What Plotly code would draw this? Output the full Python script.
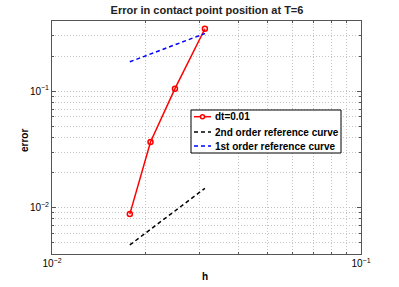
import plotly.graph_objects as go
import numpy as np

h = [1/56, 1/48, 1/40, 1/32]
err = [0.0088, 0.0366, 0.105, 0.343]
ref2 = [15 * v**2 for v in h]
ref1 = [10 * v for v in h]

xticks = [0.01, 0.1]
xticktext = ["10<sup>−2</sup>", "10<sup>−1</sup>"]
yticks = [0.01, 0.1]
yticktext = ["10<sup>−2</sup>", "10<sup>−1</sup>"]
xminor = [0.02, 0.03, 0.04, 0.05, 0.06, 0.07, 0.08, 0.09]
yminor = [0.005, 0.006, 0.007, 0.008, 0.009, 0.02, 0.03, 0.04, 0.05, 0.06, 0.07, 0.08, 0.09,
          0.2, 0.3, 0.4]

names = ["dt=0.01", "2nd order reference curve", "1st order reference curve"]
colors = ["#ff0000", "black", "#0000ff"]

FONT = "Liberation Sans, Arial, sans-serif"
W, H = 399, 287
L, R, T, B = 52, 38, 21, 33
PW, PH = W - L - R, H - T - B
DASH = "4px,3px"
GRIDDASH = "1px,2px"

def px(x):
    return (x - L) / PW

def py(y):
    return (H - B - y) / PH

fig = go.Figure()
fig.add_trace(go.Scatter(x=h, y=err, mode="lines+markers", name=names[0],
                         line=dict(color=colors[0], width=1.5),
                         marker=dict(symbol="circle-open", size=5, color=colors[0], line=dict(width=1.5))))
fig.add_trace(go.Scatter(x=[h[0], h[-1]], y=[ref2[0], ref2[-1]], mode="lines", name=names[1],
                         line=dict(color=colors[1], width=1.5, dash=DASH)))
fig.add_trace(go.Scatter(x=[h[0], h[-1]], y=[ref1[0], ref1[-1]], mode="lines", name=names[2],
                         line=dict(color=colors[2], width=1.5, dash=DASH)))

def axis_common(minor_vals):
    return dict(
        type="log", showline=True, linecolor="#555555", linewidth=1, mirror="ticks",
        ticks="inside", ticklen=4, tickcolor="#555555", automargin=False,
        showgrid=True, gridcolor="#bdbdbd", griddash=GRIDDASH, gridwidth=1,
        zeroline=False, tickfont=dict(family=FONT, size=10, color="black"),
        minor=dict(tickvals=minor_vals, ticks="inside", ticklen=2, tickcolor="#555555", showgrid=True,
                   gridcolor="#c4c4c4", griddash=GRIDDASH, gridwidth=1),
    )

fig.update_xaxes(**axis_common(xminor), range=[-2, -1], tickvals=xticks, ticktext=xticktext)
fig.update_yaxes(**axis_common(yminor), range=[np.log10(0.004), np.log10(0.4)],
                 tickvals=yticks, ticktext=yticktext)

annotations = [
    dict(text="<b>h</b>", x=px(205), y=py(276), xref="paper", yref="paper", showarrow=False,
         font=dict(family=FONT, size=10, color="black"), xanchor="center", yanchor="middle"),
    dict(text="<b>error</b>", x=px(24), y=py(140), xref="paper", yref="paper", showarrow=False,
         textangle=-90, font=dict(family=FONT, size=10, color="black"), xanchor="center", yanchor="middle"),
]
shapes = [dict(type="rect", xref="paper", yref="paper", x0=px(191), x1=px(341), y0=py(153), y1=py(110),
               line=dict(color="black", width=1), fillcolor="white", layer="above")]
legend_y = [116.7, 132.0, 146.0]
for name, col, yy, i in zip(names, colors, legend_y, range(3)):
    shapes.append(dict(type="line", xref="paper", yref="paper", x0=px(194), x1=px(211), y0=py(yy), y1=py(yy),
                       line=dict(color=col, width=1.5, dash="solid" if i == 0 else DASH), layer="above"))
    annotations.append(dict(text="<b>" + name + "</b>", x=px(213), y=py(yy), xref="paper", yref="paper",
                            showarrow=False, xanchor="left", yanchor="middle",
                            font=dict(family=FONT, size=10, color="black")))

fig.update_layout(
    width=W, height=H,
    margin=dict(l=L, r=R, t=T, b=B),
    plot_bgcolor="white", paper_bgcolor="white",
    title=dict(text="<b>Error in contact point position at T=6</b>", x=px(207), xanchor="center",
               xref="paper", y=1 - 10.5 / H, yanchor="middle", font=dict(family=FONT, size=11, color="#222222")),
    annotations=annotations,
    shapes=shapes,
    showlegend=False,
)
fig.add_shape(type="circle", xref="paper", yref="paper",
              x0=px(200.5), x1=px(204.5), y0=py(118.7), y1=py(114.7),
              line=dict(color=colors[0], width=1.5), fillcolor="white", layer="above")

fig.write_html("out.html", config={"displayModeBar": False},
               post_script="document.body.style.margin='0';document.body.style.overflow='hidden';")
